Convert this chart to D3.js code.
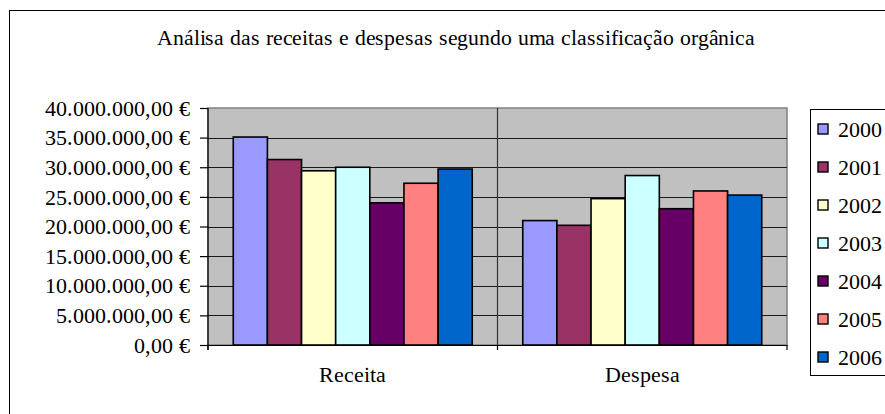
<!DOCTYPE html>
<html>
<head>
<meta charset="utf-8">
<script src="https://cdn.jsdelivr.net/npm/d3@7"></script>
<style>
  @font-face { font-family: "ChartSerif"; src: local("Liberation Serif"), local("LiberationSerif"), local("Times New Roman"); }
</style>
</head>
<body style="margin:0">
<script>
// dados
const categories = ["Receita", "Despesa"];
const years = ["2000", "2001", "2002", "2003", "2004", "2005", "2006"];
const receita = [35100000, 31300000, 29400000, 30000000, 24000000, 27300000, 29700000];
const despesa = [21000000, 20200000, 24700000, 28600000, 23000000, 26000000, 25300000];
const yTicks = [0, 5000000, 10000000, 15000000, 20000000, 25000000, 30000000, 35000000, 40000000];
const colors = ["#9999FF", "#993366", "#FFFFCC", "#CCFFFF", "#660066", "#FF8080", "#0066CC"];

const data = categories.map((c, i) => ({
  cat: c,
  values: years.map((y, j) => ({ year: y, value: (i === 0 ? receita : despesa)[j] }))
}));

const FONT = "ChartSerif, 'Liberation Serif', 'Times New Roman', serif";
const fontStyle = size => `font-family: ${FONT} !important; font-size: ${size}px;`;
const W = 885, H = 414;
const plot = { left: 208, right: 787, top: 108, bottom: 345 };

const svg = d3.select("body").append("svg")
  .attr("width", W)
  .attr("height", H);

// moldura exterior
svg.append("rect")
  .attr("x", 9.5).attr("y", 10.5)
  .attr("width", 900).attr("height", 420)
  .attr("fill", "#fff")
  .attr("stroke", "#000")
  .attr("stroke-width", 1);

const x0 = d3.scaleBand()
  .domain(categories)
  .range([plot.left, plot.right])
  .padding(0);

const x1 = d3.scaleBand()
  .domain(years)
  .range([0, x0.bandwidth()])
  .paddingInner(0)
  .paddingOuter(0.74);

const y = d3.scaleLinear()
  .domain([0, 40000000])
  .range([plot.bottom, plot.top]);

const color = d3.scaleOrdinal().domain(years).range(colors);

// fundo da área do gráfico
svg.append("rect")
  .attr("x", plot.left).attr("y", plot.top)
  .attr("width", plot.right - plot.left)
  .attr("height", plot.bottom - plot.top)
  .attr("fill", "#C0C0C0")
  .attr("stroke", "#808080")
  .attr("stroke-width", 1.5);

// linhas de grelha
svg.append("g")
  .selectAll("line")
  .data(yTicks.filter(d => d > 0 && d < 40000000))
  .join("line")
  .attr("x1", plot.left).attr("x2", plot.right)
  .attr("y1", d => Math.round(y(d)) + 0.5)
  .attr("y2", d => Math.round(y(d)) + 0.5)
  .attr("stroke", "#1a1a1a")
  .attr("stroke-width", 1.2);

// divisória entre categorias
svg.append("g")
  .selectAll("line")
  .data(categories.slice(1))
  .join("line")
  .attr("x1", d => x0(d)).attr("x2", d => x0(d))
  .attr("y1", plot.top).attr("y2", plot.bottom)
  .attr("stroke", "#333")
  .attr("stroke-width", 1.2);

// barras
const groups = svg.append("g")
  .selectAll("g")
  .data(data)
  .join("g")
  .attr("transform", d => `translate(${x0(d.cat)},0)`);

groups.selectAll("rect")
  .data(d => d.values)
  .join("rect")
  .attr("x", d => x1(d.year))
  .attr("y", d => y(d.value))
  .attr("width", x1.bandwidth())
  .attr("height", d => y(0) - y(d.value))
  .attr("fill", d => color(d.year))
  .attr("stroke", "#000")
  .attr("stroke-width", 1.6);

// eixo Y
const fmt = d => d3.format(",.2f")(d).replace(/,/g, " ").replace(".", ",").replace(/ /g, ".") + " €";
const yAxis = svg.append("g")
  .attr("transform", `translate(${plot.left},0)`)
  .call(d3.axisLeft(y).tickValues(yTicks).tickSize(8).tickFormat(""));
yAxis.select(".domain").attr("stroke", "#000").attr("stroke-width", 1.2)
  .attr("d", `M0,${plot.top}V${plot.bottom + 5}`);
yAxis.selectAll(".tick line").attr("stroke", "#000").attr("stroke-width", 1.2);
yAxis.selectAll(".tick text").remove();

svg.append("g")
  .selectAll("text")
  .data(yTicks)
  .join("text")
  .attr("x", plot.left - 18)
  .attr("y", d => y(d))
  .attr("dy", "0.35em")
  .attr("text-anchor", "end")
  .attr("style", fontStyle(22))
  .text(fmt);

// eixo X
const xAxis = svg.append("g")
  .attr("transform", `translate(0,${plot.bottom})`)
  .call(d3.axisBottom(x0).tickSize(0).tickFormat(""));
xAxis.select(".domain").attr("stroke", "#000").attr("stroke-width", 1.2);
xAxis.selectAll(".tick text").remove();
xAxis.append("g")
  .selectAll("line")
  .data(categories.map(c => x0(c)).concat([plot.right]))
  .join("line")
  .attr("x1", d => d).attr("x2", d => d)
  .attr("y1", 0).attr("y2", 5)
  .attr("stroke", "#000")
  .attr("stroke-width", 1.2);

svg.append("g")
  .selectAll("text")
  .data(categories)
  .join("text")
  .attr("x", d => x0(d) + x0.bandwidth() / 2)
  .attr("y", plot.bottom + 37)
  .attr("text-anchor", "middle")
  .attr("style", fontStyle(22))
  .text(d => d);

// título
svg.append("text")
  .attr("x", 456)
  .attr("y", 45)
  .attr("text-anchor", "middle")
  .attr("textLength", 598)
  .attr("lengthAdjust", "spacingAndGlyphs")
  .attr("style", fontStyle(22))
  .text("Análisa das receitas e despesas segundo uma classificação orgânica");

// legenda
const legend = svg.append("g");
legend.append("rect")
  .attr("x", 810.5).attr("y", 109.5)
  .attr("width", 120).attr("height", 266)
  .attr("fill", "#fff")
  .attr("stroke", "#000")
  .attr("stroke-width", 1);

const ly = d3.scalePoint()
  .domain(years)
  .range([129, 357]);

const item = legend.selectAll("g.item")
  .data(years)
  .join("g")
  .attr("class", "item")
  .attr("transform", d => `translate(818,${ly(d)})`);

item.append("rect")
  .attr("x", 0).attr("y", -5)
  .attr("width", 10).attr("height", 10)
  .attr("fill", d => color(d))
  .attr("stroke", "#000")
  .attr("stroke-width", 1.4);

item.append("text")
  .attr("x", 20)
  .attr("y", 0)
  .attr("dy", "0.35em")
  .attr("style", fontStyle(21.5))
  .text(d => d);
</script>
</body>
</html>
